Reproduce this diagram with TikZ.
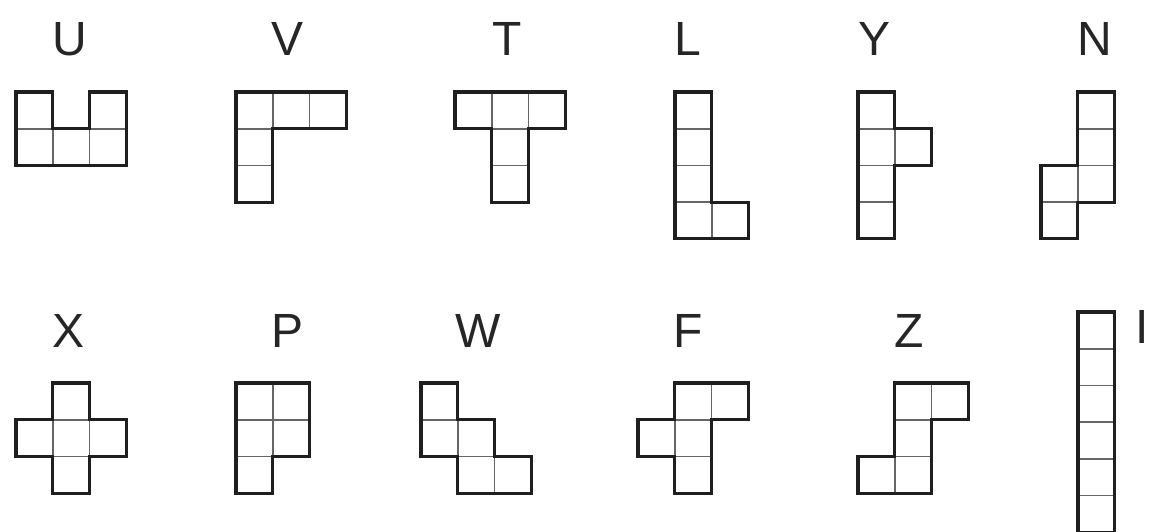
\documentclass[tikz,border=0pt]{standalone}
\usepackage{fontspec}
\setmainfont{Liberation Sans}
\tikzset{
  cellline/.style={draw=black!60, line width=1.6pt},
  outline/.style={draw=black!88, line width=3.2pt, line join=miter},
  lbl/.style={inner sep=0pt, anchor=base, font=\fontsize{48}{48}\selectfont, text=black!85},
  piece/.style={x=36.7pt, y=-36.7pt}
}
\newcommand{\pcells}[1]{\foreach \cx/\cy in {#1} {\draw[cellline] (\cx,\cy) rectangle ++(1,1);}}
\begin{document}
\begin{tikzpicture}[x=1pt, y=-1pt]
\useasboundingbox (0,0) rectangle (1149,531);
% labels row 1
\node[lbl] (lU) at (70,55) {U};
\node[lbl] (lV) at (288,55) {V};
\node[lbl] (lT) at (507,55) {T};
\node[lbl] (lL) at (688,55) {L};
\node[lbl] (lY) at (874,55) {Y};
\node[lbl] (lN) at (1095,55) {N};
% labels row 2
\node[lbl] (lX) at (69,347) {X};
\node[lbl] (lP) at (288,347) {P};
\node[lbl] (lW) at (478,347) {W};
\node[lbl] (lF) at (688,347) {F};
\node[lbl] (lZ) at (909,347) {Z};
\node[lbl, anchor=base east] (lI) at (1149,343) {I};
% U
\begin{scope}[shift={(16,92)}, piece]
\pcells{0/0,2/0,0/1,1/1,2/1}
\draw[outline] (0,0)--(1,0)--(1,1)--(2,1)--(2,0)--(3,0)--(3,2)--(0,2)--cycle;
\end{scope}
% V
\begin{scope}[shift={(236,92)}, piece]
\pcells{0/0,1/0,2/0,0/1,0/2}
\draw[outline] (0,0)--(3,0)--(3,1)--(1,1)--(1,3)--(0,3)--cycle;
\end{scope}
% T
\begin{scope}[shift={(455,92)}, piece]
\pcells{0/0,1/0,2/0,1/1,1/2}
\draw[outline] (0,0)--(3,0)--(3,1)--(2,1)--(2,3)--(1,3)--(1,1)--(0,1)--cycle;
\end{scope}
% L
\begin{scope}[shift={(675,92)}, piece]
\pcells{0/0,0/1,0/2,0/3,1/3}
\draw[outline] (0,0)--(1,0)--(1,3)--(2,3)--(2,4)--(0,4)--cycle;
\end{scope}
% Y
\begin{scope}[shift={(858,92)}, piece]
\pcells{0/0,0/1,0/2,0/3,1/1}
\draw[outline] (0,0)--(1,0)--(1,1)--(2,1)--(2,2)--(1,2)--(1,4)--(0,4)--cycle;
\end{scope}
% N
\begin{scope}[shift={(1041,92)}, piece]
\pcells{1/0,1/1,1/2,0/2,0/3}
\draw[outline] (1,0)--(2,0)--(2,3)--(1,3)--(1,4)--(0,4)--(0,2)--(1,2)--cycle;
\end{scope}
% X
\begin{scope}[shift={(16,383)}, piece]
\pcells{1/0,0/1,1/1,2/1,1/2}
\draw[outline] (1,0)--(2,0)--(2,1)--(3,1)--(3,2)--(2,2)--(2,3)--(1,3)--(1,2)--(0,2)--(0,1)--(1,1)--cycle;
\end{scope}
% P
\begin{scope}[shift={(236,383)}, piece]
\pcells{0/0,1/0,0/1,1/1,0/2}
\draw[outline] (0,0)--(2,0)--(2,2)--(1,2)--(1,3)--(0,3)--cycle;
\end{scope}
% W
\begin{scope}[shift={(421,383)}, piece]
\pcells{0/0,0/1,1/1,1/2,2/2}
\draw[outline] (0,0)--(1,0)--(1,1)--(2,1)--(2,2)--(3,2)--(3,3)--(1,3)--(1,2)--(0,2)--cycle;
\end{scope}
% F
\begin{scope}[shift={(638,383)}, piece]
\pcells{1/0,2/0,0/1,1/1,1/2}
\draw[outline] (1,0)--(3,0)--(3,1)--(2,1)--(2,3)--(1,3)--(1,2)--(0,2)--(0,1)--(1,1)--cycle;
\end{scope}
% Z
\begin{scope}[shift={(858,383)}, piece]
\pcells{1/0,2/0,1/1,0/2,1/2}
\draw[outline] (1,0)--(3,0)--(3,1)--(2,1)--(2,3)--(0,3)--(0,2)--(1,2)--cycle;
\end{scope}
% I
\begin{scope}[shift={(1078,312)}, piece]
\pcells{0/0,0/1,0/2,0/3,0/4,0/5}
\draw[outline] (0,0)--(1,0)--(1,6)--(0,6)--cycle;
\end{scope}
\end{tikzpicture}
\end{document}
